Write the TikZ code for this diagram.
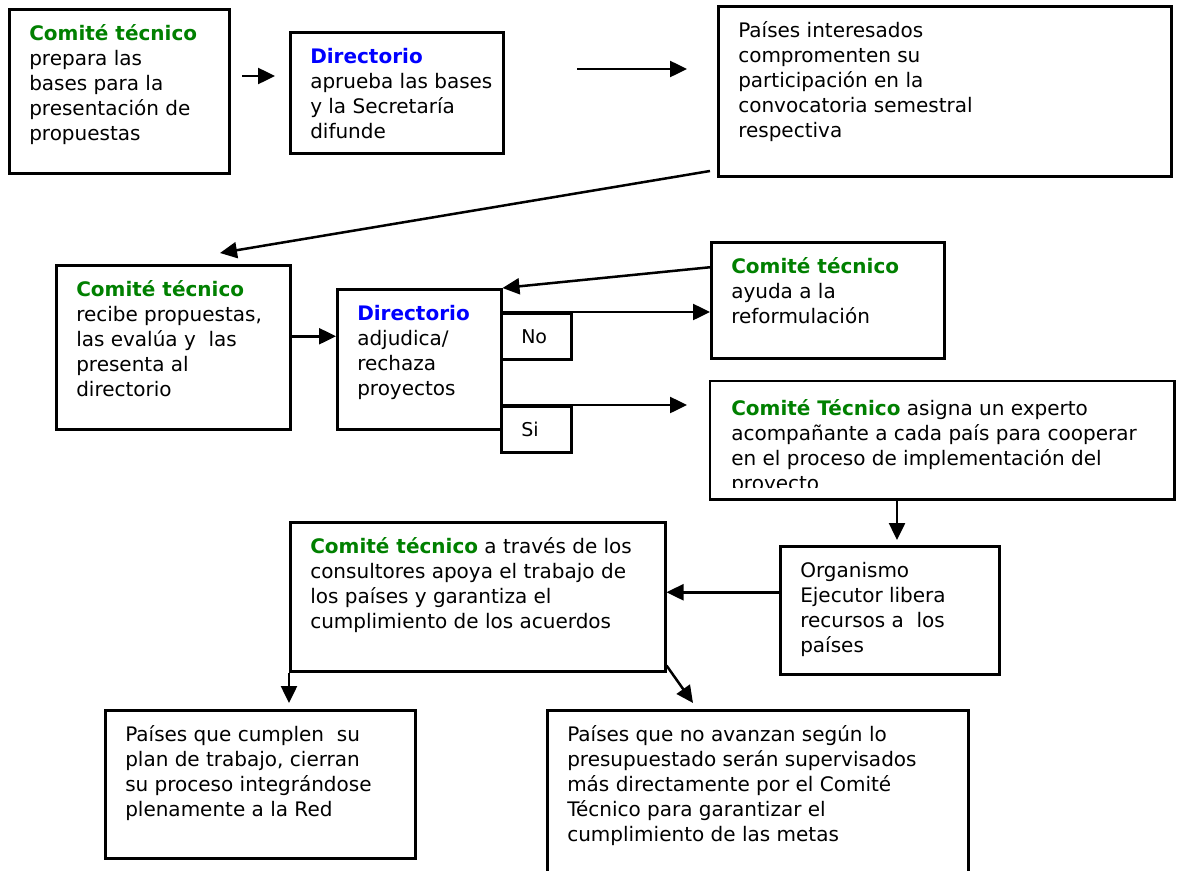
\documentclass[tikz,border=0pt]{standalone}
\usepackage{fontspec}
\setmainfont{DejaVu Sans}
\usetikzlibrary{arrows.meta,calc}
\definecolor{verde}{HTML}{008000}
\definecolor{azul}{HTML}{0000FF}
\newcommand{\cajatexto}[4][31pt]{\parbox[t][#3][t]{#2}{\raggedright\rightskip=-30pt plus 1fil\rule{0pt}{#1}#4}}
\newcommand{\ctec}[1]{\textbf{\color{verde}#1}}
\newcommand{\dir}{\textbf{\color{azul}Directorio}}
\tikzset{
  caja/.style={draw, line width=2.5pt, anchor=north west, inner xsep=20pt, inner ysep=0pt, font=\fontsize{20}{25}\selectfont},
  opcion/.style={caja, text width=30pt, minimum height=46pt, font=\fontsize{19}{22}\selectfont},
  flecha/.style={line width=2.5pt, -{Triangle[length=17pt,width=16pt]}}
}

\begin{document}
\begin{tikzpicture}[x=1pt,y=-1pt]
\useasboundingbox (0,0) rectangle (1177,870);
\node[caja] (prepara) at (8,8) {\cajatexto{180pt}{164pt}{\ctec{Comité técnico}\\prepara las\\bases para la\\presentación de\\propuestas}};
\node[caja] (aprueba) at (289,31) {\cajatexto{173pt}{121pt}{\dir\\aprueba las bases\\y la Secretaría\\difunde}};
\node[caja] (paises) at (717,5) {\cajatexto{413pt}{170pt}{Países interesados\\compromenten su\\participación en la\\convocatoria semestral\\respectiva}};
\node[caja] (recibe) at (55,264) {\cajatexto{194pt}{164pt}{\ctec{Comité técnico}\\recibe propuestas,\\las evalúa y\ \ las\\presenta al\\directorio}};
\node[caja] (adjudica) at (336,288) {\cajatexto{124pt}{140pt}{\dir\\adjudica/\\rechaza\\proyectos}};
\node[opcion] (no) at (500,312) {No};
\node[opcion] (si) at (500,405) {Si};
\node[caja] (ayuda) at (710,241) {\cajatexto{193pt}{116pt}{\ctec{Comité técnico}\\ayuda a la\\reformulación}};
\begin{scope}
\clip (700,370) rectangle (1177,487);
\node[caja, draw=none] (asigna) at (710,381) {\cajatexto[33pt]{422pt}{116pt}{\ctec{Comité Técnico} asigna un experto\\acompañante a cada país para cooperar\\en el proceso de implementación del\\proyecto}};
\end{scope}
\draw[line width=2.5pt] (asigna.north west) rectangle (asigna.south east);
\node[caja] (apoya) at (289,521) {\cajatexto{335pt}{149pt}{\ctec{Comité técnico} a través de los\\consultores apoya el trabajo de\\los países y garantiza el\\cumplimiento de los acuerdos}};
\node[caja] (libera) at (779,545) {\cajatexto{179pt}{128pt}{Organismo\\Ejecutor libera\\recursos a\ \ los\\países}};
\node[caja] (cumplen) at (104,709) {\cajatexto{270pt}{148pt}{Países que cumplen\ \ su\\plan de trabajo, cierran\\su proceso integrándose\\plenamente a la Red}};
\node[caja] (supervisa) at (546,709) {\cajatexto{381pt}{180pt}{Países que no avanzan según lo\\presupuestado serán supervisados\\más directamente por el Comité\\Técnico para garantizar el\\cumplimiento de las metas}};

\coordinate (ab0) at (242,76);
\coordinate (ab1) at (275,76);
\coordinate (bc0) at (577,69);
\coordinate (bc1) at (687,69);
\coordinate (cd0) at (710,171);
\coordinate (cd1) at (220,253);
\coordinate (de) at ($(recibe.east)+(0,-11)$);
\coordinate (fe) at ($(ayuda.west)+(0,-33)$);
\coordinate (si1) at (687,405);
\coordinate (gi) at (897,540);
\coordinate (ih) at ($(libera.west)+(0,-18)$);
\coordinate (hj) at (289,703);
\coordinate (hk) at (693,703);

\draw[flecha] (ab0) -- (ab1);
\draw[flecha] (bc0) -- (bc1);
\draw[flecha] (cd0) -- (cd1);
\draw[flecha] (de) -- (de -| adjudica.west);
\draw[flecha] (fe) -- (adjudica.north east);
\draw[flecha] (no.north west) -- (no.north west -| ayuda.west);
\draw[flecha] (si.north west) -- (si1);
\draw[flecha] (gi |- asigna.south) -- (gi);
\draw[flecha] (ih) -- (ih -| apoya.east);
\draw[flecha] (hj |- apoya.south) -- (hj);
\draw[flecha] ($(apoya.south east)+(0,-7)$) -- (hk);
\end{tikzpicture}
\end{document}
